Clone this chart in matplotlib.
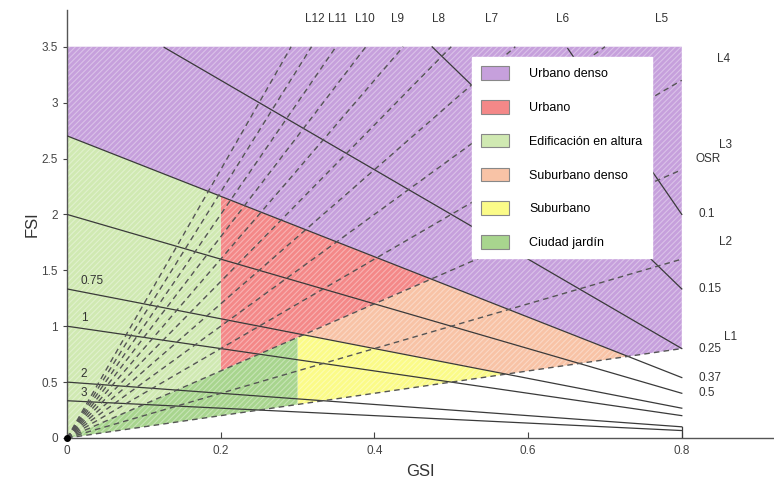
import numpy as np
import matplotlib.pyplot as plt
from matplotlib.patches import Polygon, Patch

plt.rcParams['font.family'] = ['Liberation Sans', 'DejaVu Sans']
plt.rcParams['hatch.linewidth'] = 0.8

# Valores OSR (líneas continuas) y L (líneas discontinuas)
osr_values = [0.1, 0.15, 0.25, 0.37, 0.5, 0.75, 1, 2, 3]
osr_right_labels = ["0.1", "0.15", "0.25", "0.37", "0.5"]
osr_left_labels = ["0.75", "1", "2", "3"]
l_values = [1, 2, 3, 4, 5, 6, 7, 8, 9, 10, 11, 12]

# Límites de las tipologías
gsi_max = 0.8
fsi_max = 3.5
osr_urbano = 0.37
osr_suburbano = 0.75
l_bajo = 1
l_alto = 3
gsi_altura = 0.2
gsi_jardin = 0.3

categorias = ["Urbano denso", "Urbano", "Edificación en altura",
              "Suburbano denso", "Suburbano", "Ciudad jardín"]
colores = ["#c6a0dc", "#f48888", "#d0e9b2", "#f8c3a6", "#fbfb88", "#a8d58e"]


def fsi_osr(g, osr):
    return (1 - g) / osr


def cruce(l, osr):
    # intersección de FSI = L*GSI con FSI = (1-GSI)/OSR
    g = 1 / (1 + l * osr)
    return (g, l * g)


poligonos = {
    "Urbano denso": [(0, fsi_osr(0, osr_urbano)), cruce(l_bajo, osr_urbano),
                     (gsi_max, l_bajo * gsi_max), (gsi_max, fsi_max), (0, fsi_max)],
    "Urbano": [(gsi_altura, l_alto * gsi_altura), cruce(l_alto, osr_urbano),
               (gsi_altura, fsi_osr(gsi_altura, osr_urbano))],
    "Edificación en altura": [(0, 0), (gsi_altura, l_alto * gsi_altura),
                              (gsi_altura, fsi_osr(gsi_altura, osr_urbano)),
                              (0, fsi_osr(0, osr_urbano))],
    "Suburbano denso": [cruce(l_alto, osr_suburbano), cruce(l_alto, osr_urbano),
                        cruce(l_bajo, osr_urbano), cruce(l_bajo, osr_suburbano)],
    "Suburbano": [(gsi_jardin, l_bajo * gsi_jardin), cruce(l_bajo, osr_suburbano),
                  cruce(l_alto, osr_suburbano), (gsi_jardin, l_alto * gsi_jardin)],
    "Ciudad jardín": [(0, 0), (gsi_jardin, l_bajo * gsi_jardin),
                      (gsi_jardin, l_alto * gsi_jardin)],
}

fig = plt.figure(figsize=(7.74, 4.8), dpi=100)
ax = fig.add_axes([0.0866, 0.0875, 0.9134, 0.892])

for cat, col in zip(categorias, colores):
    pts = poligonos[cat]
    ax.add_patch(Polygon(pts, closed=True, facecolor=col, edgecolor="none", zorder=1))
    ax.add_patch(Polygon(pts, closed=True, facecolor="none", edgecolor=(1, 1, 1, 0.35),
                         hatch="//////", linewidth=0, zorder=1.5))

# líneas OSR
g = np.linspace(0, gsi_max, 400)
for osr in osr_values:
    f = fsi_osr(g, osr)
    f = np.where(f <= fsi_max, f, np.nan)
    ax.plot(g, f, color="#3a3a3a", lw=0.9, zorder=3)
ax.plot([gsi_max, gsi_max], [0, fsi_osr(gsi_max, osr_values[-2])], color="#3a3a3a", lw=0.9, zorder=3)

# líneas L
for l in l_values:
    g_end = min(gsi_max, fsi_max / l)
    ax.plot([0, g_end], [0, l * g_end], color="#555555", lw=1.0,
            dashes=(4, 3), zorder=3)

ax.plot([0], [0], "o", color="black", ms=4, clip_on=False, zorder=5)

# etiquetas
txt = dict(fontsize=8.5, color="#333333")
for lab in osr_right_labels:
    ax.text(0.822, fsi_osr(gsi_max, float(lab)), lab, ha="left", va="center", **txt)
ax.text(0.818, 2.5, "OSR", ha="left", va="center", **txt)
for lab in osr_left_labels:
    ax.text(0.018, fsi_osr(0, float(lab)) + 0.07, lab, ha="left", va="center", **txt)
for l in l_values[4:]:
    ax.text(3.87 / l, 3.75, "L%d" % l, ha="center", va="center", **txt)
for l, x, y in zip(l_values[:4], [0.864, 0.857, 0.857, 0.855], [0.9, 1.75, 2.62, 3.39]):
    ax.text(x, y, "L%d" % l, ha="center", va="center", **txt)

ax.set_xlim(0, 0.92)
ax.set_ylim(0, 3.83)
ax.set_xticks([0, 0.2, 0.4, 0.6, 0.8])
ax.set_xticklabels(["0", "0.2", "0.4", "0.6", "0.8"])
ax.set_yticks([0, 0.5, 1, 1.5, 2, 2.5, 3, 3.5])
ax.set_yticklabels(["0", "0.5", "1", "1.5", "2", "2.5", "3", "3.5"])
ax.tick_params(axis="x", direction="in", length=4, labelsize=8.5, colors="#444444", pad=5)
ax.tick_params(axis="y", direction="out", length=3, labelsize=8.5, colors="#444444")
for s in ["top", "right"]:
    ax.spines[s].set_visible(False)
for s in ["left", "bottom"]:
    ax.spines[s].set_color("#555555")
    ax.spines[s].set_linewidth(1.0)

ax.set_xlabel("GSI", fontsize=12, color="#333333", labelpad=5)
ax.set_ylabel("FSI", fontsize=12, color="#333333", labelpad=1)

handles = [Patch(facecolor=c, edgecolor="#888888", lw=0.8) for c in colores]
leg = ax.legend(handles, categorias, loc="upper left", bbox_to_anchor=(0.573, 0.89),
                fontsize=9, frameon=True, fancybox=False, framealpha=1,
                edgecolor="white", borderpad=0.75, labelspacing=1.58,
                handlelength=2.2, handleheight=1.3, handletextpad=1.6,
                borderaxespad=0)
leg.set_zorder(6)

fig.savefig("out.png", dpi=100)
